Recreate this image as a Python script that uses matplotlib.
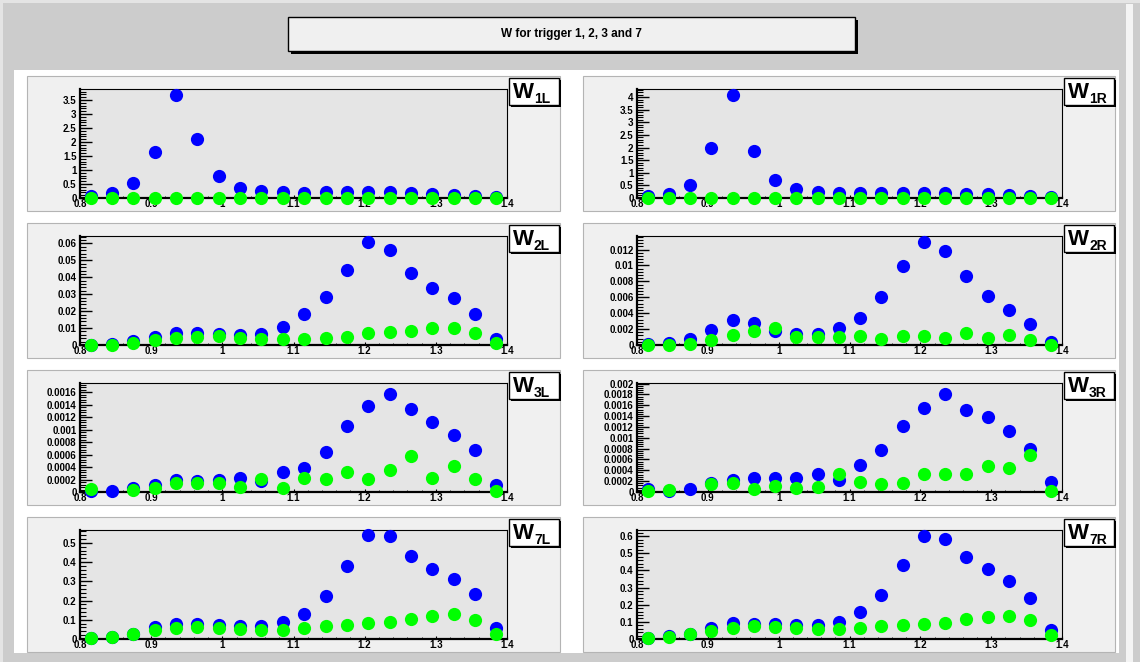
import numpy as np
import matplotlib
matplotlib.use("Agg")
import matplotlib.pyplot as plt
from matplotlib.patches import Rectangle
from matplotlib.ticker import MultipleLocator, FuncFormatter

nan = np.nan

# bin centres of W (20 bins between 0.8 and 1.4)
w_centers = [0.815, 0.845, 0.875, 0.905, 0.935, 0.965, 0.995, 1.025, 1.055, 1.085,
             1.115, 1.145, 1.175, 1.205, 1.235, 1.265, 1.295, 1.325, 1.355, 1.385]

panel_names = ["1L", "1R", "2L", "2R", "3L", "3R", "7L", "7R"]

w1l_blue = [0.08, 0.17, 0.53, 1.63, 3.68, 2.10, 0.77, 0.35, 0.24, 0.20,
            0.19, 0.20, 0.20, 0.23, 0.22, 0.17, 0.16, 0.12, 0.07, 0.02]
w1l_green = [0.004, 0.003, 0.004, 0.002, 0.005, 0.004, 0.006, 0.005, 0.004, 0.003,
             0.003, 0.004, 0.003, 0.004, 0.003, 0.002, 0.003, 0.002, 0.002, 0.001]

w1r_blue = [0.07, 0.17, 0.52, 2.00, 4.09, 1.88, 0.71, 0.34, 0.23, 0.19,
            0.19, 0.19, 0.19, 0.21, 0.20, 0.16, 0.16, 0.12, 0.09, 0.03]
w1r_green = [0.003, 0.004, 0.003, 0.002, 0.004, 0.005, 0.004, 0.006, 0.005, 0.004,
             0.003, 0.004, 0.004, 0.003, 0.004, 0.003, 0.002, 0.003, 0.002, 0.001]

w2l_blue = [0.0002, 0.0008, 0.0024, 0.0048, 0.0072, 0.0072, 0.0066, 0.0060, 0.0064, 0.0106,
            0.0186, 0.0286, 0.0446, 0.0606, 0.0560, 0.0426, 0.0336, 0.0276, 0.0184, 0.0038]
w2l_green = [0.0001, 0.0002, 0.0010, 0.0030, 0.0042, 0.0050, 0.0052, 0.0044, 0.0038, 0.0036,
             0.0036, 0.0044, 0.0050, 0.0068, 0.0074, 0.0082, 0.0098, 0.0098, 0.0072, 0.0012]

w2r_blue = [0.0001, 0.00026, 0.00073, 0.00184, 0.00317, 0.00274, 0.00176, 0.00141, 0.00141, 0.00214,
            0.00339, 0.00604, 0.00999, 0.0129, 0.01187, 0.0087, 0.00621, 0.00446, 0.00266, 0.00043]
w2r_green = [0.00001, 0.00002, 0.00017, 0.00064, 0.00129, 0.00171, 0.00214, 0.00099, 0.00103, 0.00099,
             0.00116, 0.00077, 0.00116, 0.00116, 0.00086, 0.00154, 0.0009, 0.0012, 0.0006, 0.00003]

w3l_blue = [0.00001, 0.00001, 0.00007, 0.00012, 0.00019, 0.00018, 0.0002, 0.00022, 0.00018, 0.00032,
            0.00039, 0.00064, 0.00106, 0.00138, 0.00158, 0.00134, 0.00112, 0.00092, 0.00068, 0.00012]
w3l_green = [0.00005, nan, 0.00004, 0.00007, 0.00014, 0.00014, 0.00014, 0.00008, 0.00021, 0.00006,
             0.00023, 0.00021, 0.00032, 0.00021, 0.00036, 0.00057, 0.00023, 0.00042, 0.00021, 0.00002]

w3r_blue = [0.00005, 0.00001, 0.00006, 0.00016, 0.00023, 0.00025, 0.00026, 0.00026, 0.00034, 0.00023,
            0.00049, 0.00077, 0.00121, 0.00155, 0.0018, 0.00152, 0.00139, 0.00112, 0.00079, 0.00018]
w3r_green = [0.00002, 0.00004, nan, 0.00014, 0.00017, 0.00005, 0.00011, 0.00008, 0.0001, 0.00034,
             0.00019, 0.00015, 0.00017, 0.00034, 0.00033, 0.00034, 0.00048, 0.00044, 0.00069, 0.00001]

w7l_blue = [0.004, 0.010, 0.026, 0.061, 0.079, 0.079, 0.074, 0.070, 0.070, 0.088,
            0.132, 0.225, 0.381, 0.539, 0.535, 0.433, 0.363, 0.314, 0.233, 0.056]
w7l_green = [0.004, 0.012, 0.026, 0.049, 0.058, 0.065, 0.058, 0.054, 0.047, 0.049,
             0.058, 0.067, 0.074, 0.082, 0.089, 0.105, 0.121, 0.130, 0.100, 0.026]

w7r_blue = [0.004, 0.016, 0.030, 0.065, 0.096, 0.089, 0.085, 0.079, 0.079, 0.102,
            0.159, 0.258, 0.431, 0.600, 0.583, 0.478, 0.409, 0.341, 0.240, 0.053]
w7r_green = [0.008, 0.012, 0.030, 0.045, 0.065, 0.077, 0.069, 0.065, 0.059, 0.061,
             0.065, 0.073, 0.081, 0.085, 0.094, 0.114, 0.128, 0.132, 0.108, 0.024]

blue_series = [w1l_blue, w1r_blue, w2l_blue, w2r_blue, w3l_blue, w3r_blue, w7l_blue, w7r_blue]
green_series = [w1l_green, w1r_green, w2l_green, w2r_green, w3l_green, w3r_green, w7l_green, w7r_green]

# y-axis range and label spacing for each pad
y_max = [3.89, 4.32, 0.0644, 0.0137, 0.00175, 0.00201, 0.567, 0.636]
y_step = [0.5, 0.5, 0.01, 0.002, 0.0002, 0.0002, 0.1, 0.1]
x_range = (0.8, 1.4)

title_text = "W for trigger 1, 2, 3 and 7"

# ---------------------------------------------------------------- layout (pixels)
W, H = 1140, 662
FONT = "Liberation Sans"
fig = plt.figure(figsize=(W / 100, H / 100), dpi=100)
fig.patch.set_facecolor("#cccccc")


def frac_rect(x0, y0, x1, y1):
    return [x0 / W, 1 - y1 / H, (x1 - x0) / W, (y1 - y0) / H]


def add_box(x0, y0, x1, y1, face, edge=None, lw=0.0, z=0):
    l, b, w, h = frac_rect(x0, y0, x1, y1)
    r = Rectangle((l, b), w, h, transform=fig.transFigure, facecolor=face,
                  edgecolor=edge if edge else "none", linewidth=lw, zorder=z)
    fig.patches.append(r)
    return r


def fxy(x, y):
    return x / W, 1 - y / H


# canvas bevel highlights
add_box(0, 0, W, 3, "#e4e4e4", z=-10)
add_box(0, 0, 3, H, "#e4e4e4", z=-10)
add_box(1126, 4, 1133, H, "#f4f4f4", z=-10)

# title box with drop shadow
add_box(291, 20, 858, 54, "black", z=-9)
add_box(288, 17, 855, 51, "#f0f0f0", "black", 1.0, z=-8)
fig.text(*fxy(571, 34), title_text, ha="center", va="center", fontsize=8.5,
         fontweight="bold", family=FONT, zorder=-7)

# white pad holding the eight histograms
add_box(14, 70, 1119, 653, "white", z=-10)

col_panel = [(27, 560), (583, 1115)]
col_axes = [(80, 507), (637, 1062)]
row_step = 147


def fmt_val(v, pos):
    if abs(v) < 1e-12:
        return "0"
    return ("%.6f" % v).rstrip("0").rstrip(".")


for i, name in enumerate(panel_names):
    row, col = divmod(i, 2)
    py0 = 76 + row_step * row
    px0, px1 = col_panel[col]
    # pad frame
    add_box(px0, py0, px1, py0 + 135, "#f0f0f0", "#b4b4b4", 0.8, z=-6)

    ax0, ax1 = col_axes[col]
    ay0 = 89 + row_step * row
    ax = fig.add_axes(frac_rect(ax0, ay0, ax1, ay0 + 109))
    ax.set_zorder(2)
    ax.set_facecolor("#e5e5e5")
    ax.set_xlim(*x_range)
    ax.set_ylim(0, y_max[i])

    ax.plot(w_centers, blue_series[i], "o", color="#0000ff", markersize=9.5,
            markeredgewidth=0, clip_on=False, zorder=5)
    ax.plot(w_centers, green_series[i], "o", color="#00ff00", markersize=9.5,
            markeredgewidth=0, clip_on=False, zorder=6)

    for side in ("top", "right"):
        ax.spines[side].set_linewidth(0.8)
    for side in ("left", "bottom"):
        ax.spines[side].set_linewidth(1.6)
        ax.spines[side].set_zorder(4)

    ax.xaxis.set_major_locator(MultipleLocator(0.1))
    ax.xaxis.set_minor_locator(MultipleLocator(0.02))
    ax.yaxis.set_major_locator(MultipleLocator(y_step[i]))
    ax.yaxis.set_minor_locator(MultipleLocator(y_step[i] / 5))
    ax.xaxis.set_major_formatter(FuncFormatter(fmt_val))
    ax.yaxis.set_major_formatter(FuncFormatter(fmt_val))

    ax.tick_params(axis="y", which="major", direction="in", length=8.5, width=1.0,
                   pad=2.5, labelsize=7)
    ax.tick_params(axis="y", which="minor", direction="in", length=4.3, width=0.8)
    ax.tick_params(axis="x", which="major", direction="in", length=2.5, width=0.8,
                   pad=1.0, labelsize=7)
    ax.tick_params(axis="x", which="minor", direction="in", length=1.3, width=0.6)
    for lab in ax.get_xticklabels() + ax.get_yticklabels():
        lab.set_fontfamily(FONT)
        lab.set_fontweight("bold")

    # histogram name box with shadow
    bx0 = ax1 + 2
    bx1 = px1 - 1
    by0 = py0 + 2
    by1 = py0 + 29
    add_box(bx0 + 2, by0 + 2, bx1 + 2, by1 + 2, "black", z=7)
    add_box(bx0, by0, bx1, by1, "white", "black", 1.0, z=8)
    fig.text(*fxy(bx0 + 4, by0 + 20), "W", ha="left", va="baseline", fontsize=16,
             fontweight="bold", family=FONT, zorder=9)
    fig.text(*fxy(bx0 + 25, by0 + 25), name, ha="left", va="baseline", fontsize=10,
             fontweight="bold", family=FONT, zorder=9)

fig.savefig("out.png", dpi=100, facecolor=fig.get_facecolor())
